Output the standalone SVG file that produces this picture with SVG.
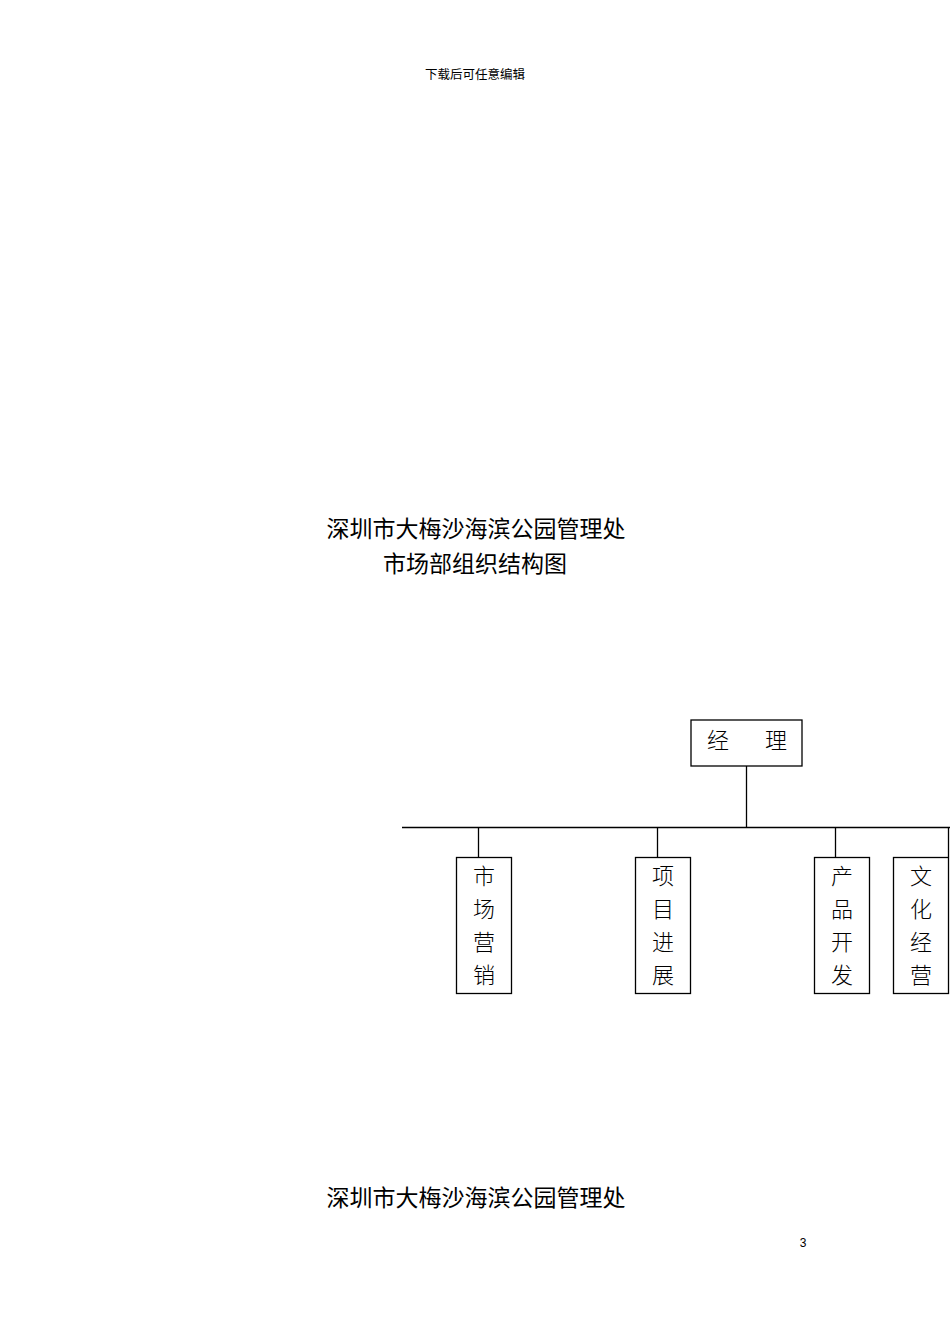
<svg xmlns="http://www.w3.org/2000/svg" width="950" height="1344" viewBox="0 0 950 1344">
<style>
.t{font-family:"Noto Sans CJK SC","Noto Sans",sans-serif;fill:#000}
.title{font-size:23px;text-anchor:middle}
.box{fill:#fff;stroke:#000;stroke-width:1.3}
.lbl{font-size:22px;text-anchor:middle;font-weight:300}
.ln{stroke:#000;stroke-width:1.3;fill:none}
</style>
<rect width="950" height="1344" fill="#fff"/>
<text class="t" x="475" y="79" font-size="12.5" text-anchor="middle" fill="#333">下载后可任意编辑</text>
<text class="t title" x="476" y="537">深圳市大梅沙海滨公园管理处</text>
<text class="t title" x="475" y="572">市场部组织结构图</text>
<g id="connectors">
<line class="ln" x1="746.5" y1="766" x2="746.5" y2="827.5"/>
<line class="ln" x1="402" y1="827.5" x2="950" y2="827.5"/>
<line class="ln" x1="478.5" y1="827.5" x2="478.5" y2="857"/>
<line class="ln" x1="657.5" y1="827.5" x2="657.5" y2="857"/>
<line class="ln" x1="835.5" y1="827.5" x2="835.5" y2="857"/>
<line class="ln" x1="948.5" y1="827.5" x2="948.5" y2="857"/>
</g>
<g id="manager">
<rect class="box" x="691" y="720" width="111" height="46"/>
<text class="t lbl" x="718" y="748">经</text>
<text class="t lbl" x="776" y="748">理</text>
</g>
<g id="marketing">
<rect class="box" x="456.5" y="857.5" width="55" height="136"/>
<text class="t lbl" x="484" y="884">市</text>
<text class="t lbl" x="484" y="917">场</text>
<text class="t lbl" x="484" y="950">营</text>
<text class="t lbl" x="484" y="983">销</text>
</g>
<g id="progress">
<rect class="box" x="635.5" y="857.5" width="55" height="136"/>
<text class="t lbl" x="663" y="884">项</text>
<text class="t lbl" x="663" y="917">目</text>
<text class="t lbl" x="663" y="950">进</text>
<text class="t lbl" x="663" y="983">展</text>
</g>
<g id="product">
<rect class="box" x="814.5" y="857.5" width="55" height="136"/>
<text class="t lbl" x="842" y="884">产</text>
<text class="t lbl" x="842" y="917">品</text>
<text class="t lbl" x="842" y="950">开</text>
<text class="t lbl" x="842" y="983">发</text>
</g>
<g id="culture">
<rect class="box" x="893.5" y="857.5" width="55" height="136"/>
<text class="t lbl" x="921" y="884">文</text>
<text class="t lbl" x="921" y="917">化</text>
<text class="t lbl" x="921" y="950">经</text>
<text class="t lbl" x="921" y="983">营</text>
</g>
<text class="t title" x="476" y="1206">深圳市大梅沙海滨公园管理处</text>
<text x="803" y="1247" font-family="Liberation Sans,Arial,sans-serif" font-size="12" text-anchor="middle">3</text>
</svg>
